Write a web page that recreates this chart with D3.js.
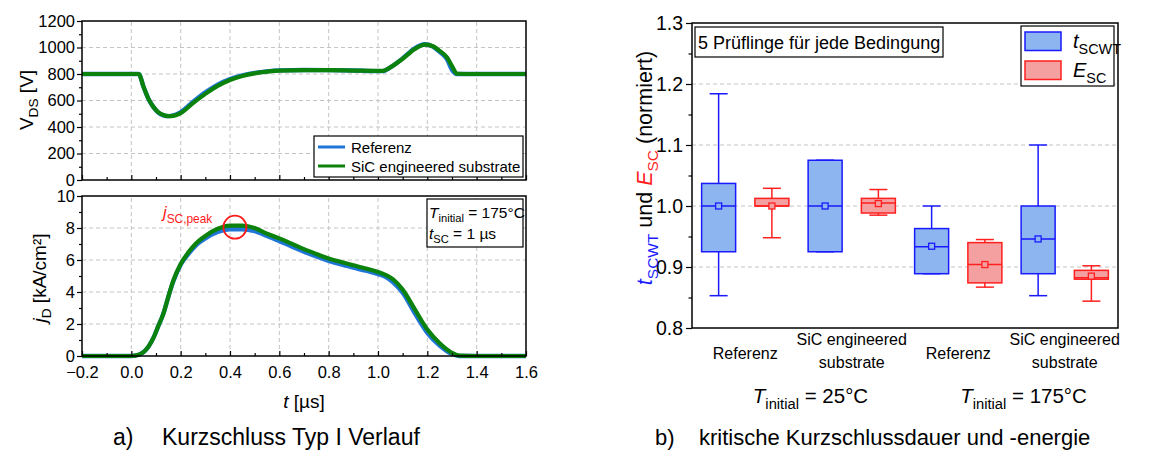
<!DOCTYPE html>
<html>
<head>
<meta charset="utf-8">
<script src="https://cdn.jsdelivr.net/npm/d3@7"></script>
<style>
  body { margin: 0; background: #fff; }
  svg { font-family: "Liberation Sans", Arial, sans-serif; }
</style>
</head>
<body>
<svg id="chart" width="1172" height="450"></svg>
<script>
// ---- panel a) data: V_DS and j_D waveforms ----
const timeV  = [-0.2, 0.0, 0.03, 0.05, 0.07, 0.09, 0.11, 0.13, 0.15, 0.17, 0.2, 0.25, 0.3, 0.35, 0.4, 0.45, 0.5, 0.55, 0.6, 0.7, 0.8, 0.9, 1.0, 1.02, 1.05, 1.1, 1.15, 1.19, 1.22, 1.25, 1.28, 1.3, 1.32, 1.4, 1.5, 1.6];
const vdsRef = [800, 800, 800, 700, 610, 550, 508, 488, 482, 487, 512, 590, 662, 720, 762, 790, 808, 820, 827, 830, 829, 826, 822, 822, 850, 918, 995, 1024, 1010, 968, 910, 830, 800, 800, 800, 800];
const vdsSiC = [800, 800, 800, 700, 610, 550, 510, 490, 482, 484, 505, 580, 650, 710, 755, 785, 805, 818, 826, 830, 829, 826, 823, 823, 850, 915, 990, 1022, 1012, 975, 925, 860, 802, 800, 800, 800];

const timeJ = [-0.2, 0.0, 0.03, 0.05, 0.07, 0.09, 0.11, 0.13, 0.15, 0.17, 0.2, 0.23, 0.26, 0.3, 0.35, 0.4, 0.45, 0.5, 0.55, 0.6, 0.65, 0.7, 0.75, 0.8, 0.85, 0.9, 0.95, 1.0, 1.03, 1.06, 1.1, 1.15, 1.2, 1.25, 1.3, 1.33, 1.4, 1.6];
const jdRef = [0, 0, 0.08, 0.25, 0.6, 1.15, 1.9, 2.65, 3.7, 4.65, 5.7, 6.35, 6.88, 7.35, 7.75, 7.92, 7.92, 7.8, 7.5, 7.18, 6.85, 6.52, 6.22, 5.95, 5.72, 5.52, 5.33, 5.12, 4.95, 4.62, 3.95, 2.65, 1.45, 0.65, 0.12, 0, 0, 0];
const jdSiC = [0, 0, 0.08, 0.25, 0.6, 1.15, 1.9, 2.65, 3.7, 4.7, 5.75, 6.45, 7.0, 7.5, 7.95, 8.15, 8.15, 8.0, 7.65, 7.35, 7.02, 6.68, 6.38, 6.1, 5.88, 5.67, 5.47, 5.25, 5.07, 4.8, 4.15, 2.9, 1.65, 0.8, 0.2, 0.02, 0, 0];

const vdsTicks  = [0, 200, 400, 600, 800, 1000, 1200];
const jdTicks   = [0, 2, 4, 6, 8, 10];
const timeTicks = [-0.2, 0.0, 0.2, 0.4, 0.6, 0.8, 1.0, 1.2, 1.4, 1.6];
const peakPoint = [0.42, 8.05];

// ---- panel b) data: normalised box plots ----
const devices   = ["Referenz", "SiC engineered substrate", "Referenz", "SiC engineered substrate"];
const tempLabels = ["25°C", "175°C"];
const normTicks = [0.8, 0.9, 1.0, 1.1, 1.2, 1.3];

const tLow  = [0.853, 0.925, 0.889, 0.853];
const tQ1   = [0.925, 0.925, 0.889, 0.889];
const tMed  = [1.0, 1.0, 0.933, 0.946];
const tMean = [1.0, 1.0, 0.934, 0.946];
const tQ3   = [1.037, 1.075, 0.963, 1.0];
const tHigh = [1.184, 1.075, 1.0, 1.1];

const eLow  = [0.948, 0.985, 0.867, 0.844];
const eQ1   = [1.0, 0.9885, 0.874, 0.880];
const eMed  = [1.0, 1.005, 0.904, 0.8825];
const eMean = [1.0, 1.004, 0.904, 0.885];
const eQ3   = [1.0125, 1.0125, 0.940, 0.8945];
const eHigh = [1.029, 1.027, 0.945, 0.902];

const svg = d3.select("#chart");
const blueLine = "#1f76d6", greenLine = "#0b820b";
const gridCol = "#c4c4c4";

// text with italic / subscript pieces
function rich(sel, x, y, size, parts) {
  const t = sel.append("text").attr("x", x).attr("y", y).attr("font-size", size);
  let shift = 0;
  parts.forEach(p => {
    const s = t.append("tspan").text(p.t);
    const want = p.sub ? size * 0.28 : 0;
    if (want !== shift) { s.attr("dy", want - shift); shift = want; }
    if (p.sub) s.attr("font-size", size * 0.72);
    if (p.it) s.attr("font-style", "italic");
    if (p.fill) s.attr("fill", p.fill);
  });
  return t;
}

// ================= panel a =================
const xT = d3.scaleLinear().domain([-0.2, 1.6]).range([82, 526]);
const yV = d3.scaleLinear().domain([0, 1200]).range([180, 21]);
const yJ = d3.scaleLinear().domain([0, 10]).range([356, 196]);

function gridPanel(yScale, yTicks) {
  const g = svg.append("g");
  const [y0, y1] = yScale.range();
  g.selectAll(".vg").data(timeTicks.slice(1, -1)).join("line")
    .attr("x1", d => xT(d)).attr("x2", d => xT(d))
    .attr("y1", y0).attr("y2", y1);
  g.selectAll(".hg").data(yTicks.slice(1, -1)).join("line")
    .attr("x1", 82).attr("x2", 526)
    .attr("y1", d => yScale(d)).attr("y2", d => yScale(d));
  g.selectAll("line").attr("stroke", gridCol).attr("stroke-width", 1).attr("stroke-dasharray", "4,3");
}
gridPanel(yV, vdsTicks);
gridPanel(yJ, jdTicks);

const lineV = (vals) => d3.line().x((d, i) => xT(timeV[i])).y(d => yV(d)).curve(d3.curveMonotoneX)(vals);
const lineJ = (vals) => d3.line().x((d, i) => xT(timeJ[i])).y(d => yJ(d)).curve(d3.curveMonotoneX)(vals);

svg.append("path").attr("d", lineV(vdsRef)).attr("fill", "none").attr("stroke", blueLine).attr("stroke-width", 4.4);
svg.append("path").attr("d", lineV(vdsSiC)).attr("fill", "none").attr("stroke", greenLine).attr("stroke-width", 4.2);
svg.append("path").attr("d", lineJ(jdRef)).attr("fill", "none").attr("stroke", blueLine).attr("stroke-width", 4.4);
svg.append("path").attr("d", lineJ(jdSiC)).attr("fill", "none").attr("stroke", greenLine).attr("stroke-width", 4.2);

function styleAxis(g, size) {
  g.select(".domain").remove();
  g.selectAll("text").attr("font-size", size).attr("fill", "#000").attr("font-family", "Liberation Sans, Arial, sans-serif");
  g.selectAll(".tick line").attr("stroke", "#000").attr("stroke-width", 1.2);
}
const minorOf = (ticks, step) => d3.range(ticks[0], ticks[ticks.length - 1] + step / 2, step)
  .map(v => +v.toFixed(4)).filter(v => !ticks.some(t => Math.abs(t - v) < 1e-6));

// y axes
svg.append("g").attr("transform", "translate(82,0)")
  .call(d3.axisLeft(yV).tickValues(vdsTicks).tickSize(5).tickPadding(2).tickFormat(d3.format("d")))
  .call(g => styleAxis(g, 16.5));
svg.append("g").attr("transform", "translate(82,0)")
  .call(d3.axisLeft(yV).tickValues(minorOf(vdsTicks, 100)).tickSize(3).tickFormat("")).call(g => styleAxis(g, 16.5));
svg.append("g").attr("transform", "translate(82,0)")
  .call(d3.axisLeft(yJ).tickValues(jdTicks).tickSize(5).tickPadding(2).tickFormat(d3.format("d")))
  .call(g => styleAxis(g, 16.5));
svg.append("g").attr("transform", "translate(82,0)")
  .call(d3.axisLeft(yJ).tickValues(minorOf(jdTicks, 1)).tickSize(3).tickFormat("")).call(g => styleAxis(g, 16.5));

// x axes (ticks pointing inward)
const fmtT = d => d3.format(".1f")(d).replace("-", "\u2212");
svg.append("g").attr("transform", "translate(0,180)")
  .call(d3.axisTop(xT).tickValues(timeTicks).tickSize(5).tickFormat("")).call(g => styleAxis(g, 16.5));
svg.append("g").attr("transform", "translate(0,180)")
  .call(d3.axisTop(xT).tickValues(minorOf(timeTicks, 0.1)).tickSize(3).tickFormat("")).call(g => styleAxis(g, 16.5));
svg.append("g").attr("transform", "translate(0,356)")
  .call(d3.axisBottom(xT).tickValues(timeTicks).tickSizeInner(-5).tickSizeOuter(0).tickPadding(10).tickFormat(fmtT))
  .call(g => styleAxis(g, 16.5));
svg.append("g").attr("transform", "translate(0,356)")
  .call(d3.axisBottom(xT).tickValues(minorOf(timeTicks, 0.1)).tickSizeInner(-3).tickSizeOuter(0).tickFormat(""))
  .call(g => styleAxis(g, 16.5));

// frames
[yV, yJ].forEach(ys => {
  const [b, t] = ys.range();
  svg.append("rect").attr("x", 82).attr("y", t).attr("width", 444).attr("height", b - t)
    .attr("fill", "none").attr("stroke", "#000").attr("stroke-width", 1.5);
});

// legend top panel
const lg = svg.append("g");
lg.append("rect").attr("x", 314).attr("y", 136).attr("width", 209).attr("height", 41)
  .attr("fill", "#fff").attr("stroke", "#000").attr("stroke-width", 1.2);
[["Referenz", blueLine, 147], ["SiC engineered substrate", greenLine, 166]].forEach(([txt, c, y]) => {
  lg.append("line").attr("x1", 318).attr("x2", 345).attr("y1", y).attr("y2", y).attr("stroke", c).attr("stroke-width", 3);
  lg.append("text").attr("x", 351).attr("y", y + 5.5).attr("font-size", 15).text(txt);
});

// annotation box bottom panel
svg.append("rect").attr("x", 427).attr("y", 199).attr("width", 96).attr("height", 48)
  .attr("fill", "#fff").attr("stroke", "#000").attr("stroke-width", 1.2);
rich(svg, 429, 218, 15.5, [{ t: "T", it: true }, { t: "initial", sub: true }, { t: " = 175°C" }]);
rich(svg, 429, 239, 15.5, [{ t: "t", it: true }, { t: "SC", sub: true }, { t: " = 1 µs" }]);

// peak marker
svg.append("circle").attr("cx", xT(peakPoint[0])).attr("cy", yJ(peakPoint[1])).attr("r", 11.5)
  .attr("fill", "none").attr("stroke", "#ff1a1a").attr("stroke-width", 1.8);
rich(svg, 163, 218, 16.5, [{ t: "j", it: true, fill: "#ff1a1a" }, { t: "SC,peak", sub: true, fill: "#ff1a1a" }]);

// axis titles
rich(svg.append("g").attr("transform", "translate(33,100) rotate(-90)"), 0, 0, 19,
  [{ t: "V" }, { t: "DS", sub: true }, { t: " [V]" }]).attr("text-anchor", "middle");
rich(svg.append("g").attr("transform", "translate(46,278) rotate(-90)"), 0, 0, 19,
  [{ t: "j", it: true }, { t: "D", sub: true }, { t: " [kA/cm²]" }]).attr("text-anchor", "middle");
rich(svg, 304, 408, 19, [{ t: "t", it: true }, { t: " [µs]" }]).attr("text-anchor", "middle");

// caption a
svg.append("text").attr("x", 113).attr("y", 445).attr("font-size", 23).text("a)");
svg.append("text").attr("x", 162).attr("y", 445).attr("font-size", 23).text("Kurzschluss Typ I Verlauf");

// ================= panel b =================
const yN = d3.scaleLinear().domain([0.8, 1.3]).range([328, 23]);
const xBox = d3.scaleBand().domain(d3.range(8)).range([692, 1118]);
const pL = 692, pR = 1118;

svg.append("g").selectAll("line").data(normTicks.slice(1, -1)).join("line")
  .attr("x1", pL).attr("x2", pR).attr("y1", d => yN(d)).attr("y2", d => yN(d))
  .attr("stroke", gridCol).attr("stroke-width", 1).attr("stroke-dasharray", "4,3");

const series = [
  { low: tLow, q1: tQ1, med: tMed, mean: tMean, q3: tQ3, high: tHigh, fill: "#8db5f0", stroke: "#1a1aff", off: 0 },
  { low: eLow, q1: eQ1, med: eMed, mean: eMean, q3: eQ3, high: eHigh, fill: "#f5a0a0", stroke: "#ff1f1f", off: 1 }
];
const boxW = 34, capW = 18;
series.forEach(s => {
  devices.forEach((dev, i) => {
    const cx = xBox(2 * i + s.off) + xBox.bandwidth() / 2;
    const g = svg.append("g").attr("stroke", s.stroke).attr("stroke-width", 1.5);
    g.append("line").attr("x1", cx).attr("x2", cx).attr("y1", yN(s.low[i])).attr("y2", yN(s.high[i]));
    [s.low[i], s.high[i]].forEach(v => g.append("line")
      .attr("x1", cx - capW / 2).attr("x2", cx + capW / 2).attr("y1", yN(v)).attr("y2", yN(v)));
    g.append("rect").attr("x", cx - boxW / 2).attr("y", yN(s.q3[i]))
      .attr("width", boxW).attr("height", yN(s.q1[i]) - yN(s.q3[i])).attr("fill", s.fill);
    g.append("line").attr("x1", cx - boxW / 2).attr("x2", cx + boxW / 2)
      .attr("y1", yN(s.med[i])).attr("y2", yN(s.med[i]));
    g.append("rect").attr("x", cx - 3).attr("y", yN(s.mean[i]) - 3).attr("width", 6).attr("height", 6)
      .attr("fill", s.fill).attr("stroke-width", 1.3);
  });
});

// axis
svg.append("g").attr("transform", `translate(${pL},0)`)
  .call(d3.axisLeft(yN).tickValues(normTicks).tickSize(6).tickPadding(3).tickFormat(d3.format(".1f")))
  .call(g => styleAxis(g, 19.5));
svg.append("g").attr("transform", `translate(${pL},0)`)
  .call(d3.axisLeft(yN).tickValues(minorOf(normTicks, 0.05)).tickSize(3.5).tickFormat(""))
  .call(g => styleAxis(g, 19.5));
svg.append("rect").attr("x", pL).attr("y", 23).attr("width", pR - pL).attr("height", 305)
  .attr("fill", "none").attr("stroke", "#000").attr("stroke-width", 1.5);

// device labels
devices.forEach((dev, i) => {
  const cx = xBox(2 * i + 1);
  const words = dev === "Referenz" ? [dev] : ["SiC engineered", "substrate"];
  const ys = words.length === 1 ? [359] : [345, 368];
  words.forEach((w, k) => svg.append("text").attr("x", cx).attr("y", ys[k])
    .attr("text-anchor", "middle").attr("font-size", 16).text(w));
});
tempLabels.forEach((lab, k) => {
  const cx = xBox(4 * k + 2) + 12;
  rich(svg, cx, 403, 20.5, [{ t: "T", it: true }, { t: "initial", sub: true }, { t: " = " + lab }])
    .attr("text-anchor", "middle");
});

// y title
rich(svg.append("g").attr("transform", "translate(652,168) rotate(-90)"), 0, 0, 21.5, [
  { t: "t", it: true, fill: "#1a1aff" }, { t: "SCWT", sub: true, fill: "#1a1aff" },
  { t: " und " },
  { t: "E", it: true, fill: "#ff1f1f" }, { t: "SC", sub: true, fill: "#ff1f1f" },
  { t: " (normiert)" }
]).attr("text-anchor", "middle");

// note box
svg.append("rect").attr("x", 695).attr("y", 27).attr("width", 248).attr("height", 30)
  .attr("fill", "#fff").attr("stroke", "#000").attr("stroke-width", 1.2);
svg.append("text").attr("x", 698).attr("y", 49).attr("font-size", 18).text("5 Prüflinge für jede Bedingung");

// legend
svg.append("rect").attr("x", 1021).attr("y", 26).attr("width", 93).attr("height", 60)
  .attr("fill", "#fff").attr("stroke", "#000").attr("stroke-width", 1.2);
[[series[0], 32, "t", "SCWT"], [series[1], 61, "E", "SC"]].forEach(([s, y, a, b]) => {
  svg.append("rect").attr("x", 1025).attr("y", y).attr("width", 36).attr("height", 18.5)
    .attr("fill", s.fill).attr("stroke", s.stroke).attr("stroke-width", 1.5);
  rich(svg, 1073, y + 16, 20, [{ t: a, it: true }, { t: b, sub: true }]);
});

// caption b
svg.append("text").attr("x", 655).attr("y", 445).attr("font-size", 22).text("b)");
svg.append("text").attr("x", 699).attr("y", 445).attr("font-size", 22).text("kritische Kurzschlussdauer und -energie");
</script>
</body>
</html>
